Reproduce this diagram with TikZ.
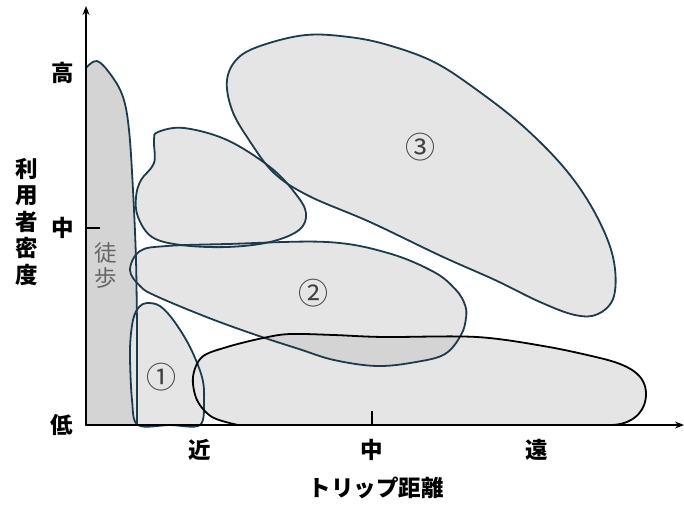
\documentclass[tikz,border=0pt]{standalone}
\usepackage{fontspec}
\setmainfont{Noto Sans CJK JP}
\usetikzlibrary{arrows.meta}
\definecolor{edgeC}{HTML}{1D3B4A}
\definecolor{lightF}{HTML}{E5E5E5}
\definecolor{darkF}{HTML}{D4D4D4}
\tikzset{
  region/.style={draw=edgeC, line width=1.8pt},
  axis/.style={line width=1.1pt, -{Stealth[length=9pt,width=7pt]}},
  lab/.style={font=\bfseries\fontsize{22.5}{22.5}\selectfont, inner sep=0pt},
  num/.style={font=\fontsize{30}{30}\selectfont, text=black!75, inner sep=0pt}
}
\def\shapeWalk{(86,425) -- (86,68) -- plot[smooth,tension=0.6] coordinates {(86,68) (97,61) (111,75) (123,97) (129,130) (133,190) (136,260) (137,330)} -- (137,425) -- cycle}
\def\shapeTL{plot[smooth cycle,tension=0.6] coordinates {(184,128) (227,140) (270,167) (295,193) (306,213) (299,230) (270,242) (227,247) (181,245) (152,237) (138,217) (136,197) (141,180) (154,163) (154,140) (158,132)}}
\def\shapeThree{plot[smooth cycle,tension=0.6] coordinates {(263,45) (306,35) (349,37) (388,45) (434,62) (477,90) (524,127) (566,170) (595,213) (613,257) (614,296) (598,314) (575,315) (540,302) (495,280) (441,256) (370,222) (309,196) (274,173) (249,140) (232,110) (227,80) (238,58)}}
\def\shapeTwo{plot[smooth cycle,tension=0.6] coordinates {(130,270) (140,251) (167,246) (227,244) (327,242) (388,253) (434,272) (456,290) (465,305) (466,318) (461,335) (445,354) (416,362) (377,366) (334,360) (299,349) (259,336) (209,318) (156,296) (140,286)}}
\def\shapeOne{plot[smooth cycle,tension=0.55] coordinates {(147,303) (160,306) (174,321) (190,347) (202,377) (204,400) (200,425) (170,425) (138,425) (132,400) (130,350) (133,320) (139,307)}}
\def\shapeBottom{(250,425) -- (610,425) .. controls (632,425) and (646,412) .. (646,394) .. controls (646,375) and (630,365) .. (600,358) -- plot[smooth,tension=0.55] coordinates {(600,358) (549,347) (477,337) (384,337) (334,335) (290,334) (263,338) (227,347) (202,357) (193,377) (197,400) (212,417) (238,425)} -- cycle}
\begin{document}
\begin{tikzpicture}[x=1pt,y=-1pt]
\useasboundingbox (0,0) rectangle (684,504);
% fills
\fill[darkF] \shapeWalk;
\fill[lightF] \shapeTL;
\fill[lightF] \shapeThree;
\fill[lightF] \shapeTwo;
\fill[lightF] \shapeOne;
\fill[lightF] \shapeBottom;
\begin{scope}
  \clip \shapeTwo;
  \fill[darkF] \shapeBottom;
\end{scope}
% outlines
\draw[region] \shapeWalk;
\draw[region] \shapeTL;
\draw[region] \shapeThree;
\draw[region] \shapeTwo;
\draw[region] \shapeOne;
\draw[region, draw=black, line join=round] \shapeBottom;
% axes
\coordinate (O) at (86,425);
\coordinate (ytop) at (86,6);
\coordinate (xend) at (684,425);
\coordinate (ytick) at (100,228);
\coordinate (ytickO) at (86,228);
\coordinate (xtick) at (372,411);
\coordinate (xtickO) at (372,425);
\draw[axis] (O) -- (ytop);
\draw[axis] (O) -- (xend);
\draw[line width=1.3pt] (ytickO) -- (ytick);
\draw[line width=1.1pt] (xtickO) -- (xtick);
% labels
\node[lab] (hi) at (63,73) {高};
\node[lab] (mid) at (63,228) {中};
\node[lab] (lo) at (62,425) {低};
\node[lab, align=center, font=\bfseries\fontsize{22.5}{26.5}\selectfont] (ylab) at (27,222) {利\\用\\者\\密\\度};
\node[lab] (near) at (200,450) {近};
\node[lab] (xmid) at (372,450) {中};
\node[lab] (far) at (537,450) {遠};
\node[lab] (xlab) at (376,488) {トリップ距離};
\node[inner sep=0pt, align=center, text=black!60, font=\fontsize{22.5}{25}\selectfont] (walk) at (106,266) {徒\\歩};
\node[num] (n1) at (161,377) {①};
\node[num] (n2) at (313,293) {②};
\node[num] (n3) at (420,147) {③};
\end{tikzpicture}
\end{document}
